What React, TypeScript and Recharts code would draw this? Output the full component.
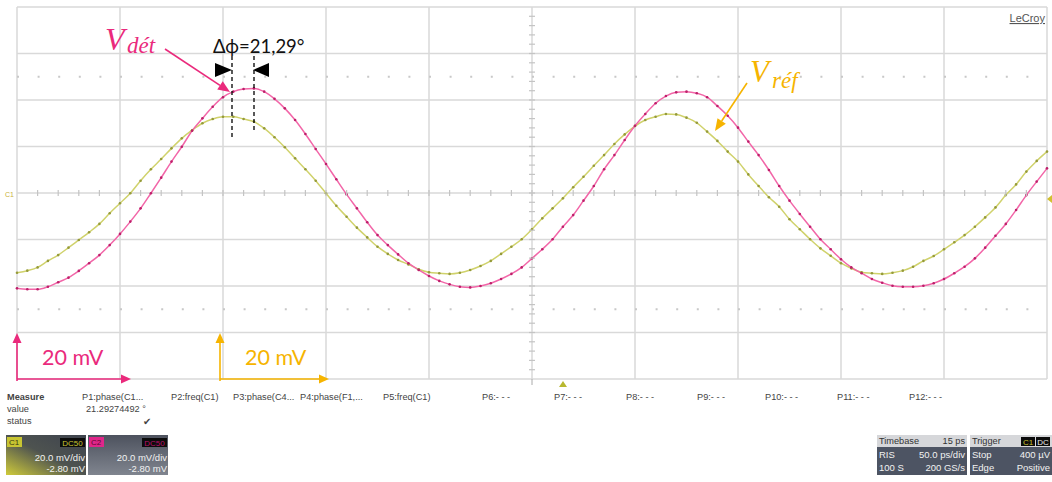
import React from "react";
import { LineChart, Line, XAxis, YAxis, CartesianGrid, ReferenceLine } from "recharts";

// scope record: one sample every 5 ps (50 ps/div), values in mV (20 mV/div)
const vRef = [
  -34.3, -33.4, -32.0, -29.2, -26.7, -23.5, -20.2, -16.9, -13.3, -8.7,
  -4.4, -0.1, 5.3, 10.2, 14.6, 19.2, 23.5, 27.0, 30.0, 31.8,
  32.8, 32.8, 31.8, 30.7, 27.8, 24.0, 19.7, 14.9, 10.2, 5.3,
  -0.1, -5.5, -10.2, -14.9, -19.1, -23.1, -26.2, -28.8, -30.7, -32.8,
  -34.1, -34.5, -34.8, -34.3, -33.1, -31.4, -29.2, -26.2, -23.1, -19.9,
  -15.6, -10.9, -6.6, -2.3, 2.5, 7.0, 11.7, 16.3, 21.1, 25.2,
  28.8, 31.4, 32.8, 34.0, 33.8, 32.4, 30.2, 26.4, 22.4, 17.8,
  13.5, 8.0, 3.0, -1.8, -5.9, -11.3, -15.6, -19.9, -23.8, -27.0,
  -30.2, -32.4, -34.1, -34.5, -34.8, -34.3, -33.4, -31.7, -29.2, -27.1,
  -24.2, -21.2, -18.1, -14.5, -10.5, -6.2, -0.9, 3.7, 9.2, 13.8,
  17.8,
];

const vDet = [
  -41.0, -41.4, -41.4, -40.3, -38.4, -36.4, -33.5, -30.2, -26.7, -22.4,
  -17.6, -12.3, -6.6, -0.1, 6.6, 13.5, 19.9, 26.8, 32.1, 37.1,
  41.2, 43.6, 44.7, 45.0, 43.6, 40.5, 36.4, 31.4, 25.4, 18.9,
  12.5, 5.9, -0.6, -6.6, -12.6, -18.1, -22.4, -26.4, -30.2, -33.1,
  -35.7, -37.8, -39.3, -40.3, -40.6, -40.0, -38.8, -37.0, -34.8, -32.0,
  -28.1, -24.2, -19.9, -14.5, -9.5, -3.3, 3.0, 10.2, 16.3, 22.8,
  28.9, 34.0, 38.6, 41.7, 43.3, 43.6, 42.9, 41.2, 37.4, 33.2,
  28.1, 22.1, 16.3, 9.9, 3.0, -3.3, -9.0, -14.5, -19.9, -24.2,
  -28.5, -32.0, -34.5, -37.0, -38.6, -39.9, -40.3, -40.3, -39.9, -38.8,
  -37.0, -34.5, -31.7, -28.1, -23.5, -18.4, -13.3, -7.3, -0.9, 4.9,
  10.6,
];

const timePs = vRef.map((_, i) => i * 5);
const timeTicks = [0, 50, 100, 150, 200, 250, 300, 350, 400, 450, 500];
const voltTicks = [-80, -60, -40, -20, 0, 20, 40, 60, 80];
const dottedLevels = [50, -50];

const data = timePs.map((t, i) => ({ t, ref: vRef[i], det: vDet[i] }));

// screen geometry of the graticule
const W = 1052;
const H = 482;
const L = 17;
const T = 7;
const PW = 1030;
const PH = 372;

const PINK = "#ea2a7c";
const GOLD = "#f6b400";

function arrow(x1: number, y1: number, x2: number, y2: number, color: string, len = 11, half = 5) {
  const dx = x2 - x1;
  const dy = y2 - y1;
  const d = Math.hypot(dx, dy);
  const ux = dx / d;
  const uy = dy / d;
  const bx = x2 - ux * len;
  const by = y2 - uy * len;
  const pts = `${x2},${y2} ${bx - uy * half},${by + ux * half} ${bx + uy * half},${by - ux * half}`;
  return (
    <g>
      <line x1={x1} y1={y1} x2={bx} y2={by} stroke={color} strokeWidth={1.6} />
      <polygon points={pts} fill={color} />
    </g>
  );
}

function Overlay() {
  const cx = L + PW / 2;
  const cy = T + PH / 2;
  const hTicks = [];
  for (let n = 1; n < 50; n++) {
    const x = L + (n * PW) / 50;
    hTicks.push(<line key={"h" + n} x1={x} x2={x} y1={cy - 3} y2={cy + 3} stroke="#c4c4c4" strokeWidth={1.2} />);
  }
  const vTicks = [];
  for (let n = 1; n < 40; n++) {
    const y = T + (n * PH) / 40;
    vTicks.push(<line key={"v" + n} x1={cx - 3} x2={cx + 3} y1={y} y2={y} stroke="#c4c4c4" strokeWidth={1.2} />);
  }
  const small = { fontFamily: "Liberation Sans, Arial, sans-serif", fontSize: 9.2, fill: "#444" };
  const white = { fontFamily: "Liberation Sans, Arial, sans-serif", fontSize: 9.5, fill: "#f2f2f2" };
  const pLabels: [string, number][] = [
    ["P1:phase(C1...", 82],
    ["P2:freq(C1)", 171],
    ["P3:phase(C4...", 233],
    ["P4:phase(F1,...", 300],
    ["P5:freq(C1)", 383],
    ["P6:- - -", 482],
    ["P7:- - -", 554],
    ["P8:- - -", 626],
    ["P9:- - -", 697],
    ["P10:- - -", 765],
    ["P11:- - -", 837],
    ["P12:- - -", 909],
  ];
  return (
    <svg width={W} height={H} style={{ position: "absolute", left: 0, top: 0, pointerEvents: "none" }}>
      <defs>
        <linearGradient id="c1g" x1="1" y1="0" x2="0" y2="1">
          <stop offset="0" stopColor="#3e434e" />
          <stop offset="0.5" stopColor="#4e5350" />
          <stop offset="1" stopColor="#cfcb3a" />
        </linearGradient>
        <linearGradient id="c2g" x1="0" y1="0" x2="0" y2="1">
          <stop offset="0" stopColor="#4d525e" />
          <stop offset="1" stopColor="#80858f" />
        </linearGradient>
      </defs>
      {hTicks}
      {vTicks}

      {/* V det label + arrow */}
      <text x={105} y={50} fill={PINK} fontFamily="Liberation Serif, serif" fontStyle="italic" fontSize={32}>V</text>
      <text x={127} y={53} fill={PINK} fontFamily="Liberation Serif, serif" fontStyle="italic" fontSize={23}>dét</text>
      {arrow(165, 49, 230, 92, PINK, 12, 5)}

      {/* phase shift marker */}
      <text x={213} y={53} fill="#111" fontFamily="Lato, Open Sans, sans-serif" fontSize={18.5}>Δϕ=21,29°</text>
      <polygon points="215,63 215,77 232,70" fill="#000" />
      <polygon points="269,63 269,77 253,70" fill="#000" />
      <line x1={232} x2={232} y1={56} y2={138} stroke="#000" strokeWidth={1.3} strokeDasharray="4 3" />
      <line x1={254} x2={254} y1={56} y2={132} stroke="#000" strokeWidth={1.3} strokeDasharray="4 3" />

      {/* V ref label + arrow */}
      <text x={750} y={82} fill={GOLD} fontFamily="Liberation Serif, serif" fontStyle="italic" fontSize={31}>V</text>
      <text x={772} y={88} fill={GOLD} fontFamily="Liberation Serif, serif" fontStyle="italic" fontSize={23}>réf</text>
      {arrow(747, 83, 715, 131, GOLD, 12, 5)}

      {/* scale arrows */}
      {arrow(17, 381, 17, 333, PINK, 10, 4.5)}
      {arrow(17, 379, 131, 379, PINK, 10, 4.5)}
      <text x={42} y={365} fill={PINK} fontFamily="Lato, Open Sans, sans-serif" fontSize={21.5}>20 mV</text>
      {arrow(220, 381, 220, 333, GOLD, 10, 4.5)}
      {arrow(220, 379, 329, 379, GOLD, 10, 4.5)}
      <text x={245} y={365} fill={GOLD} fontFamily="Lato, Open Sans, sans-serif" fontSize={21.5}>20 mV</text>

      {/* scope chrome */}
      <text x={1045} y={22} textAnchor="end" fontFamily="Liberation Sans, Arial, sans-serif" fontSize={11} fill="#555" textDecoration="underline">LeCroy</text>
      <text x={5} y={197} fontFamily="Liberation Sans, Arial, sans-serif" fontSize={7} fill="#c9b23a">C1</text>
      <polygon points="1052,195 1052,203 1047,199" fill="#d2c030" />
      <polygon points="559,387 567,387 563,381" fill="#b8b830" />
      <line x1={cx} x2={cx} y1={379} y2={385} stroke="#aaa" strokeWidth={1} />

      <text x={7} y={400} {...small} fontWeight="bold">Measure</text>
      <text x={7} y={412} {...small}>value</text>
      <text x={7} y={424} {...small}>status</text>
      {pLabels.map(([s, x]) => (
        <text key={s} x={x} y={400} {...small}>{s}</text>
      ))}
      <text x={86} y={412} {...small}>21.29274492 °</text>
      <text x={143} y={425} {...small} fontSize={10}>✔</text>

      {/* channel boxes */}
      <rect x={6} y={435} width={80} height={40} fill="url(#c1g)" />
      <rect x={7} y={437} width={15} height={10} fill="#c8c532" />
      <text x={9} y={445} fontFamily="Liberation Sans, Arial, sans-serif" fontSize={8} fill="#3a3a10">C1</text>
      <rect x={60} y={438} width={25} height={9} fill="#0c0c0c" />
      <text x={72.5} y={446} textAnchor="middle" fontFamily="Liberation Sans, Arial, sans-serif" fontSize={8} fill="#c8c532">DC50</text>
      <text x={85} y={461} textAnchor="end" {...white}>20.0 mV/div</text>
      <text x={85} y={472} textAnchor="end" {...white}>-2.80 mV</text>

      <rect x={88} y={435} width={80} height={40} fill="url(#c2g)" />
      <rect x={89} y={437} width={15} height={10} fill="#e0268a" />
      <text x={91} y={445} fontFamily="Liberation Sans, Arial, sans-serif" fontSize={8} fill="#5a0a30">C2</text>
      <rect x={142} y={438} width={25} height={9} fill="#0c0c0c" />
      <text x={154.5} y={446} textAnchor="middle" fontFamily="Liberation Sans, Arial, sans-serif" fontSize={8} fill="#b8106a">DC50</text>
      <text x={167} y={461} textAnchor="end" {...white}>20.0 mV/div</text>
      <text x={167} y={472} textAnchor="end" {...white}>-2.80 mV</text>

      {/* timebase / trigger */}
      <rect x={877} y={435} width={90} height={40} fill="#4d5463" />
      <rect x={877} y={435} width={90} height={12} fill="#d6d7da" />
      <text x={879} y={444} {...small} fill="#333">Timebase</text>
      <text x={965} y={444} textAnchor="end" {...small} fill="#333">15 ps</text>
      <text x={879} y={458} {...white}>RIS</text>
      <text x={965} y={458} textAnchor="end" {...white}>50.0 ps/div</text>
      <text x={879} y={471} {...white}>100 S</text>
      <text x={965} y={471} textAnchor="end" {...white}>200 GS/s</text>

      <rect x={970} y={435} width={82} height={40} fill="#4d5463" />
      <rect x={970} y={435} width={82} height={12} fill="#d6d7da" />
      <text x={972} y={444} {...small} fill="#333">Trigger</text>
      <rect x={1021} y={437} width={14} height={9} fill="#0c0c0c" />
      <text x={1028} y={445} textAnchor="middle" fontFamily="Liberation Sans, Arial, sans-serif" fontSize={8} fill="#c8c532">C1</text>
      <rect x={1036} y={437} width={14} height={9} fill="#0c0c0c" />
      <text x={1043} y={445} textAnchor="middle" fontFamily="Liberation Sans, Arial, sans-serif" fontSize={8} fill="#eee">DC</text>
      <text x={972} y={458} {...white}>Stop</text>
      <text x={1050} y={458} textAnchor="end" {...white}>400 µV</text>
      <text x={972} y={471} {...white}>Edge</text>
      <text x={1050} y={471} textAnchor="end" {...white}>Positive</text>
    </svg>
  );
}

export default function App() {
  return (
    <div style={{ position: "absolute", left: 0, top: 0, width: W, height: H, background: "#fff" }}>
      <LineChart
        width={W}
        height={H}
        data={data}
        margin={{ top: T, left: L, right: W - L - PW, bottom: H - T - PH }}
      >
        <CartesianGrid stroke="#d9d9d9" strokeWidth={1.5} />
        <XAxis dataKey="t" type="number" domain={[0, 500]} ticks={timeTicks} hide />
        <YAxis type="number" domain={[-80, 80]} ticks={voltTicks} hide />
        {dottedLevels.map((v) => (
          <ReferenceLine key={v} y={v} stroke="#c8c8c8" strokeWidth={2} strokeDasharray="2 18.6" />
        ))}
        <Line
          dataKey="ref"
          type="monotone"
          stroke="#d0d26c"
          strokeWidth={1.5}
          dot={{ r: 1.3, fill: "#959a3a", stroke: "none" }}
          activeDot={false}
          isAnimationActive={false}
        />
        <Line
          dataKey="det"
          type="monotone"
          stroke="#f266a8"
          strokeWidth={1.5}
          dot={{ r: 1.3, fill: "#bd1f6a", stroke: "none" }}
          activeDot={false}
          isAnimationActive={false}
        />
      </LineChart>
      <Overlay />
    </div>
  );
}
